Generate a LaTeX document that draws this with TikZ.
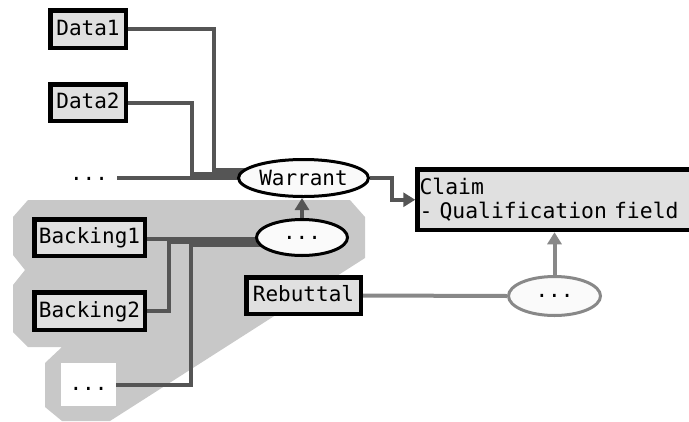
\documentclass[tikz,border=0pt]{standalone}
\usepackage{fontspec}
\setmonofont{DejaVu Sans Mono}
\usetikzlibrary{shapes.geometric,arrows.meta,calc}
\pgfdeclarelayer{bg}
\pgfdeclarelayer{lines}
\pgfsetlayers{bg,lines,main}
\definecolor{linedark}{HTML}{555555}
\definecolor{linelight}{HTML}{888888}
\definecolor{boxfill}{HTML}{E0E0E0}
\definecolor{areafill}{HTML}{C8C8C8}
\definecolor{ellfill}{HTML}{FAFAFA}
\tikzset{
  txt/.style={font=\fontsize{21}{24}\selectfont\ttfamily},
  box/.style={txt, draw=black, line width=4.5pt, fill=boxfill, inner sep=0pt,
    text height=15pt, text depth=3pt},
  ell/.style={txt, ellipse, draw=black, line width=3pt, fill=ellfill, inner sep=0pt},
  link/.style={draw=linedark, line width=4pt},
  lightlink/.style={draw=linelight, line width=4pt},
  tip/.style={-{Triangle[length=12pt,width=14pt]}},
}
\begin{document}
\begin{tikzpicture}[x=1pt,y=-1pt]
\path[use as bounding box] (0,0) rectangle (689,421);
\clip (0,0) rectangle (689,421);

% nodes
\node[box, minimum width=75.5pt, minimum height=37.5pt] (d1) at (88,29) {Data1};
\node[box, minimum width=75.5pt, minimum height=36.5pt] (d2) at (88,102.5) {Data2};
\node[txt, inner sep=0pt, text height=15pt, text depth=3pt] (dl) at (89,174) {...};
\node[ell, minimum width=130pt, minimum height=37pt] (w) at (303.5,178) {Warrant};
\node[box, anchor=north west, minimum width=300pt, minimum height=60.5pt,
      text width=296pt, align=left, inner xsep=1pt, text height=, text depth=,
      font=\fontsize{21.4}{24}\selectfont\ttfamily]
      (claim) at (415.25,167.25) {Claim\\- Qualification field};
\node[box, minimum width=110.5pt, minimum height=36.5pt] (b1) at (89.5,237.5) {Backing1};
\node[box, minimum width=110.5pt, minimum height=37.5pt] (b2) at (89.5,311) {Backing2};
\node[txt, fill=white, minimum width=55pt, minimum height=43pt, inner sep=0pt,
      text height=15pt, text depth=3pt] (wd) at (88.5,384.5) {...};
\node[ell, minimum width=91pt, minimum height=36pt] (bd) at (302,237.5) {...};
\node[box, minimum width=114.5pt, minimum height=36.5pt] (reb) at (303.5,295.5) {Rebuttal};
\node[ell, draw=linelight, minimum width=92pt, minimum height=39pt] (rd) at (554.5,296) {...};

% shaded backing area
\begin{pgfonlayer}{bg}
\fill[areafill] (28,200) -- (350,200) -- (365,217) -- (365,258) -- (110,421)
  -- (62,421) -- (45,407) -- (45,363) -- (62,347) -- (28,347) -- (13,332)
  -- (13,285) -- (25,270) -- (13,255) -- (13,217) -- cycle;
\end{pgfonlayer}

% connectors
\begin{pgfonlayer}{lines}
\draw[link] (d1.east) -| ($(w.west)+(-23,-8)$) -- ($(w.west)+(14,-8)$);
\draw[link] (d2.east) -| ($(w.west)+(-45,-4)$) -- ($(w.west)+(14,-4)$);
\draw[link, line width=3.5pt] ($(dl.east)+(9,4)$) -- ($(w.west)+(14,0)$);
\draw[link] ($(b1.east)+(0,1.5)$) -- ($(bd.west)+(14,1.5)$);
\draw[link] (b2.east) -| ($(bd.west)+(-86,4.5)$) -- ($(bd.west)+(14,4.5)$);
\draw[link] (wd.east) -| ($(bd.west)+(-64,7.5)$) -- ($(bd.west)+(14,7.5)$);
\draw[link, tip] (bd.north) -- (w.south -| bd.north);
\draw[link, tip] (w.east) -- ++(22,0) |- (claim.west);
\draw[lightlink] (reb.east) -- (rd.west);
\draw[lightlink, tip] (rd.north) -- (claim.south -| rd.north);
\end{pgfonlayer}
\end{tikzpicture}
\end{document}
